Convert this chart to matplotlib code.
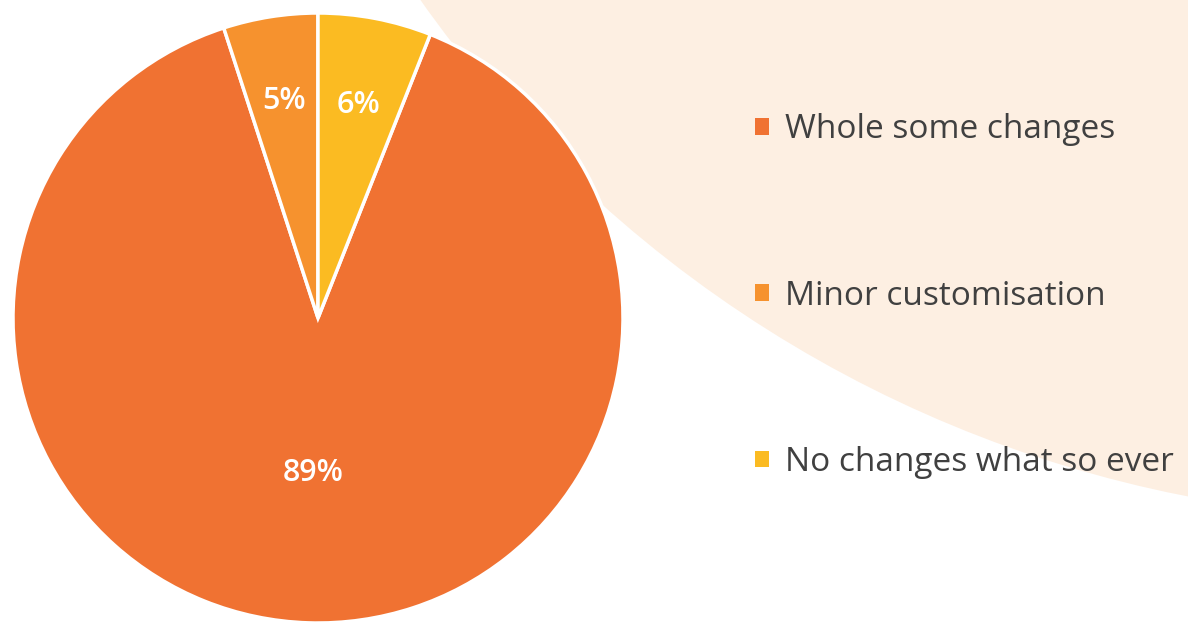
import numpy as np
import matplotlib.pyplot as plt
from matplotlib.patches import Circle, Patch

categories = ["Whole some changes", "Minor customisation", "No changes what so ever"]
shares = [89, 5, 6]
pct_labels = ["89%", "5%", "6%"]

colors = ["#F07232", "#F6922E", "#FBBB22"]
label_radius = [0.51, 0.72, 0.71]
backdrop = "#FDEFE2"
text_dark = "#404040"

W, H = 1188, 630
fig = plt.figure(figsize=(W / 100, H / 100), dpi=100)
ax = fig.add_axes([0, 0, 1, 1])

# soft decorative disc behind the legend
ax.add_patch(Circle((1422, H + 707), 1226, facecolor=backdrop, edgecolor="none", zorder=0))

cx, cy, r = 318, H - 318, 305
start = 90 - 360 * shares[2] / sum(shares)
wedges, _ = ax.pie(
    shares,
    colors=colors,
    startangle=start,
    counterclock=False,
    center=(cx, cy),
    radius=r,
    wedgeprops=dict(edgecolor="white", linewidth=2.5),
    frame=True,
)
ax.set_xlim(0, W)
ax.set_ylim(0, H)
ax.set_aspect("equal")
ax.axis("off")

for w, lab, d in zip(wedges, pct_labels, label_radius):
    mid = np.deg2rad((w.theta1 + w.theta2) / 2)
    ax.text(cx + d * r * np.cos(mid), cy + d * r * np.sin(mid), lab,
            ha="center", va="center", color="white", fontsize=22,
            family="Open Sans", fontweight="semibold", zorder=5)

handles = [Patch(facecolor=c, edgecolor="none") for c in colors]
ax.legend(handles, categories, loc="upper left", bbox_to_anchor=(742 / W, 1 - 100 / H),
          frameon=False, prop=dict(family="Open Sans", size=24), labelcolor=text_dark,
          handlelength=0.4, handleheight=0.4, handletextpad=0.5,
          labelspacing=4.0, borderaxespad=0)

fig.savefig("out.png", dpi=100, facecolor="white")
